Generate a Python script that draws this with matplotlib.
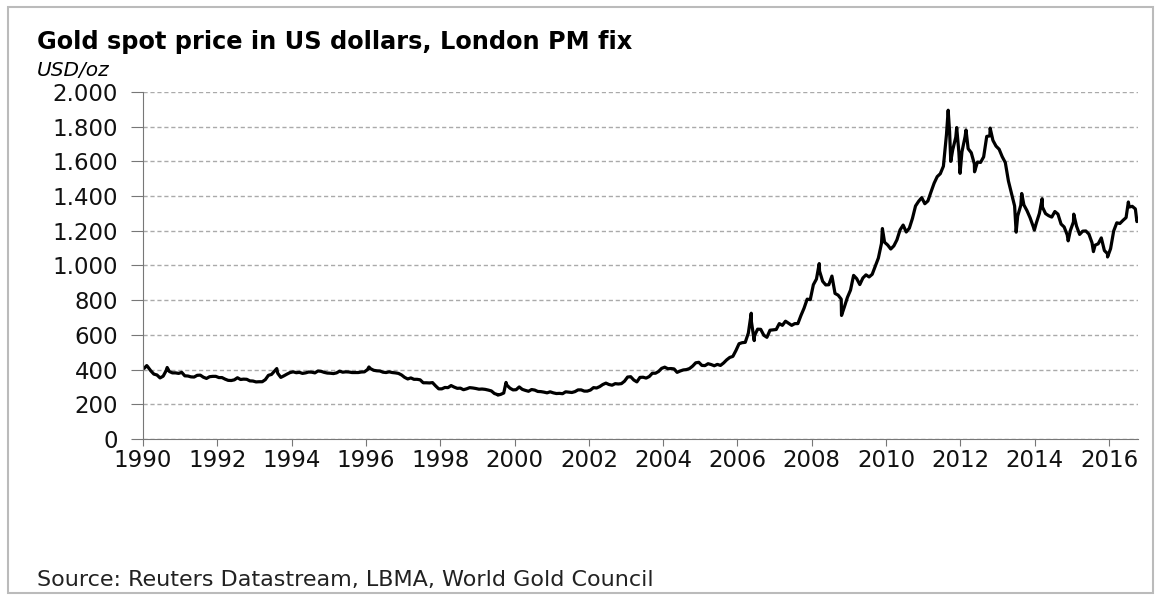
import numpy as np
import matplotlib
matplotlib.use("Agg")
import matplotlib.pyplot as plt
from matplotlib.ticker import FuncFormatter
from matplotlib.patches import Rectangle

# monthly levels, USD/oz (Jan..Dec)
monthly = {
    1990: [410, 417, 393, 374, 369, 352, 362, 395, 389, 381, 381, 378],
    1991: [384, 364, 363, 358, 357, 367, 368, 356, 349, 359, 361, 361],
    1992: [354, 354, 345, 338, 337, 341, 353, 343, 345, 344, 335, 334],
    1993: [329, 330, 330, 342, 367, 372, 392, 379, 355, 364, 374, 383],
    1994: [387, 382, 384, 378, 381, 386, 385, 381, 392, 390, 384, 380],
    1995: [379, 377, 381, 391, 385, 387, 386, 383, 383, 383, 386, 387],
    1996: [400, 405, 396, 393, 392, 385, 383, 387, 383, 381, 378, 369],
    1997: [355, 346, 352, 344, 344, 341, 324, 324, 323, 325, 306, 289],
    1998: [289, 297, 296, 308, 299, 292, 293, 284, 289, 296, 294, 291],
    1999: [287, 288, 286, 282, 277, 262, 256, 257, 265, 311, 293, 283],
    2000: [284, 300, 286, 280, 275, 285, 282, 274, 273, 270, 266, 272],
    2001: [266, 262, 263, 261, 272, 270, 268, 273, 283, 283, 276, 276],
    2002: [282, 296, 294, 302, 314, 322, 314, 310, 319, 317, 319, 333],
    2003: [357, 359, 340, 329, 355, 356, 351, 360, 379, 379, 389, 407],
    2004: [414, 405, 406, 404, 384, 392, 398, 400, 406, 420, 439, 442],
    2005: [424, 423, 434, 429, 422, 430, 424, 438, 456, 470, 476, 510],
    2006: [549, 555, 557, 610, 676, 596, 633, 632, 598, 586, 627, 629],
    2007: [631, 665, 655, 679, 667, 655, 665, 665, 712, 754, 806, 803],
    2008: [889, 922, 968, 909, 888, 889, 939, 839, 829, 806, 760, 816],
    2009: [858, 943, 924, 890, 928, 946, 934, 949, 996, 1043, 1127, 1134],
    2010: [1118, 1095, 1113, 1148, 1205, 1233, 1193, 1215, 1271, 1343, 1370, 1391],
    2011: [1356, 1372, 1424, 1474, 1512, 1529, 1572, 1756, 1772, 1666, 1739, 1652],
    2012: [1656, 1742, 1673, 1650, 1585, 1596, 1594, 1626, 1744, 1747, 1721, 1688],
    2013: [1670, 1627, 1593, 1487, 1414, 1343, 1286, 1347, 1349, 1316, 1275, 1225],
    2014: [1244, 1300, 1336, 1299, 1287, 1279, 1311, 1296, 1239, 1222, 1176, 1201],
    2015: [1251, 1227, 1179, 1198, 1199, 1181, 1131, 1117, 1125, 1159, 1086, 1068],
    2016: [1097, 1199, 1246, 1242, 1260, 1276, 1337, 1341, 1326, 1266],
}

# intra-month highs / lows visible as spikes
spike_dates = [1990.10, 1990.65, 1993.60, 1996.08, 1999.55, 1999.77, 2006.37, 2006.45,
               2008.20, 2008.80, 2009.90, 2011.67, 2011.74, 2011.90, 2011.99, 2012.15,
               2012.38, 2012.80, 2013.50, 2013.65, 2013.99, 2014.20, 2014.90, 2015.05,
               2015.58, 2015.96, 2016.52, 2016.75]
spike_prices = [423, 412, 406, 415, 253, 326, 725, 567,
                1011, 712, 1213, 1895, 1600, 1795, 1531, 1781,
                1540, 1792, 1192, 1415, 1204, 1385, 1142, 1296,
                1080, 1049, 1366, 1253]

dates, prices = [], []
for yr, vals in monthly.items():
    for m, v in enumerate(vals):
        dates.append(yr + (m + 0.5) / 12)
        prices.append(v)
dates += spike_dates
prices += spike_prices
order = np.argsort(dates)
dates = np.array(dates)[order]
prices = np.array(prices)[order]

years = list(range(1990, 2017, 2))
yticks = list(range(0, 2001, 200))

plt.rcParams['font.family'] = ['DejaVu Sans']

fig = plt.figure(figsize=(11.59, 5.95), dpi=100)
ax = fig.add_axes([0.1234, 0.2622, 0.8585, 0.5832])

ax.plot(dates, prices, color='black', lw=2.3, solid_joinstyle='round')

ax.set_xlim(1990, 2016.78)
ax.set_ylim(0, 2000)
ax.set_xticks(years)
ax.set_yticks(yticks)
ax.yaxis.set_major_formatter(FuncFormatter(lambda v, p: f"{v:,.0f}".replace(',', '.')))
ax.grid(axis='y', color='#aaaaaa', linestyle='--', lw=1, dashes=(3, 2))
ax.set_axisbelow(True)
for s in ['top', 'right']:
    ax.spines[s].set_visible(False)
for s in ['left', 'bottom']:
    ax.spines[s].set_color('#777777')
ax.tick_params(axis='both', direction='out', color='#777777', length=9,
               labelsize=16.5, labelcolor='#111111')
ax.tick_params(axis='y', pad=9)
ax.tick_params(axis='x', length=5, pad=2)

fig.text(0.032, 0.929, 'Gold spot price in US dollars, London PM fix',
         fontsize=17.3, fontweight='bold', va='center', ha='left')
fig.text(0.032, 0.882, 'USD/oz', fontsize=14.5, style='italic', va='center', ha='left')
fig.text(0.032, 0.025, 'Source: Reuters Datastream, LBMA, World Gold Council',
         fontsize=16, va='center', ha='left', color='#222222')

fig.patches.append(Rectangle((0.007, 0.004), 0.988, 0.985, transform=fig.transFigure,
                             fill=False, edgecolor='#bbbbbb', lw=1.5))

fig.savefig('out.png', dpi=100)
